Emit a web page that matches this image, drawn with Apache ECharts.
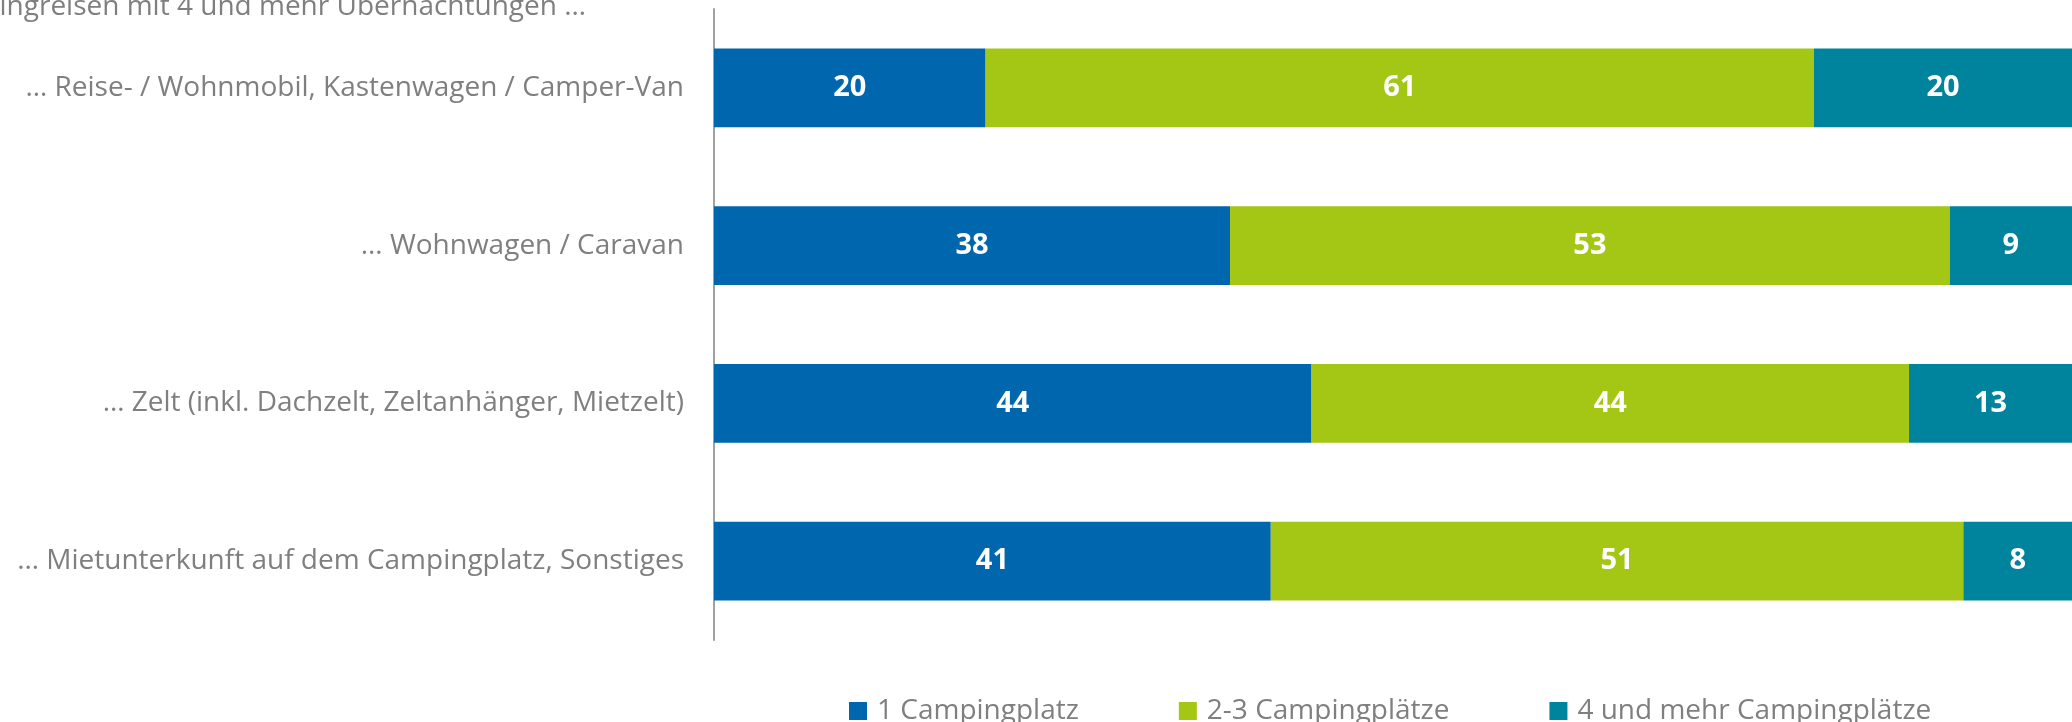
<!DOCTYPE html>
<html>
<head>
<meta charset="utf-8">
<script src="https://cdn.jsdelivr.net/npm/echarts@6/dist/echarts.min.js"></script>
<style>
  html, body { margin: 0; padding: 0; background: #ffffff; }
  #chart { width: 2072px; height: 722px; }
</style>
</head>
<body>
<div id="chart"></div>
<script>
// Campingreisen (4+ Übernachtungen): Anzahl besuchter Campingplätze je Unterkunftsart, in %
const headline = 'Campingreisen mit 4 und mehr Übernachtungen …';
const categories = [
  '… Reise- / Wohnmobil, Kastenwagen / Camper-Van',
  '… Wohnwagen / Caravan',
  '… Zelt (inkl. Dachzelt, Zeltanhänger, Mietzelt)',
  '… Mietunterkunft auf dem Campingplatz, Sonstiges'
];
const seriesNames = ['1 Campingplatz', '2-3 Campingplätze', '4 und mehr Campingplätze'];
const onePlace = [20, 38, 44, 41];
const twoThreePlaces = [61, 53, 44, 51];
const fourPlusPlaces = [20, 9, 13, 8];

const colors = ['#0066AD', '#A4C615', '#00839C'];
const textGray = '#7F7F7F';
const fontFamily = '"Open Sans", "Noto Sans", sans-serif';

const chart = echarts.init(document.getElementById('chart'), null, { renderer: 'canvas' });

function stackSeries(name, data, color) {
  return {
    name: name,
    type: 'bar',
    stack: 'total',
    data: data,
    barCategoryGap: '50%',
    itemStyle: { color: color },
    label: {
      show: true,
      position: 'inside',
      color: '#ffffff',
      fontFamily: fontFamily,
      fontWeight: 'bold',
      fontSize: 29
    },
    emphasis: { disabled: true }
  };
}

chart.setOption({
  animation: false,
  backgroundColor: '#ffffff',
  color: colors,
  graphic: [{
    type: 'text',
    x: 586,
    y: 7,
    style: {
      text: headline,
      fill: textGray,
      font: '28px ' + fontFamily,
      textAlign: 'right',
      textVerticalAlign: 'middle'
    }
  }],
  grid: { left: 714, right: -8, top: 9, bottom: 82 },
  xAxis: {
    type: 'value',
    min: 0,
    max: 100,
    show: false
  },
  yAxis: {
    type: 'category',
    data: categories,
    inverse: true,
    axisLine: { show: true, lineStyle: { color: '#A0A0A0', width: 2 } },
    axisTick: { show: false },
    splitLine: { show: false },
    axisLabel: {
      color: textGray,
      fontFamily: fontFamily,
      fontSize: 28,
      margin: 30
    }
  },
  legend: {
    data: seriesNames,
    left: 849,
    top: 697,
    padding: 0,
    itemWidth: 18,
    itemHeight: 18,
    itemGap: 100,
    icon: 'rect',
    selectedMode: false,
    textStyle: {
      color: textGray,
      fontFamily: fontFamily,
      fontSize: 28,
      lineHeight: 18,
      padding: [0, 0, 0, 5]
    }
  },
  series: [
    stackSeries(seriesNames[0], onePlace, colors[0]),
    stackSeries(seriesNames[1], twoThreePlaces, colors[1]),
    stackSeries(seriesNames[2], fourPlusPlaces, colors[2])
  ]
});
</script>
</body>
</html>
